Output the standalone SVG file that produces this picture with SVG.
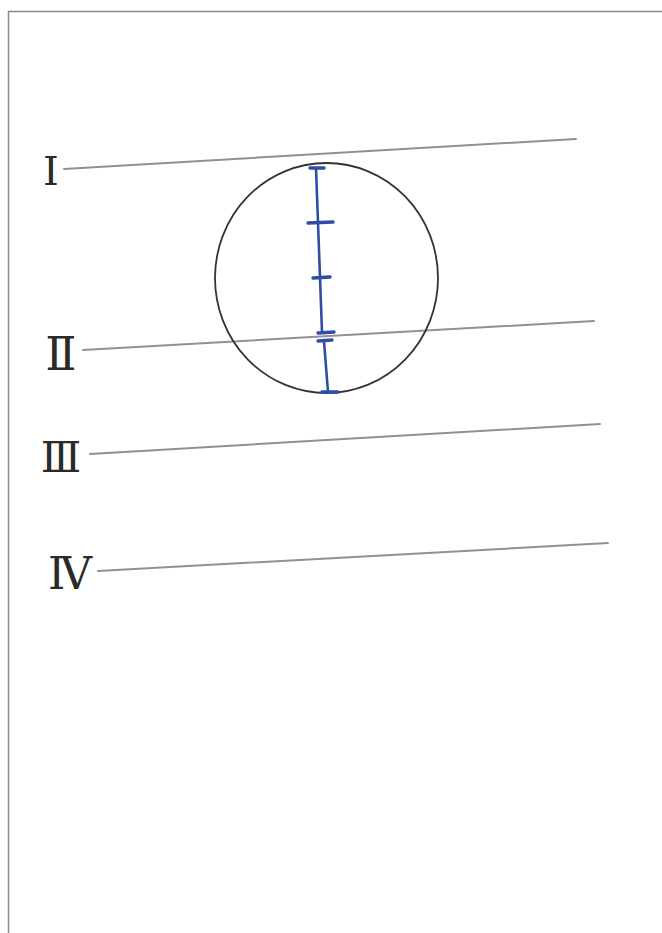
<svg xmlns="http://www.w3.org/2000/svg" width="662" height="933" viewBox="0 0 662 933">
<style>
.frame{fill:none;stroke:#8a8a8a;stroke-width:1.5}
.row{stroke:#9a8c94;stroke-width:2;stroke-linecap:round}
.lbl{font-family:"DejaVu Serif","Liberation Serif",serif;fill:#2a2a2a;text-anchor:middle}
.blue{stroke:#2f4ea3;stroke-width:2.6;stroke-linecap:round;fill:none}
.tick{stroke:#2f4ea3;stroke-width:3.4;stroke-linecap:round}
</style>
<rect width="662" height="933" fill="#fff"/>
<path class="frame" d="M662 11.5 H8.5 V933"/>
<g id="lines">
<line class="row" x1="64" y1="169" x2="576" y2="139"/>
<line class="row" x1="83" y1="350" x2="594" y2="321"/>
<line class="row" x1="90" y1="454" x2="600" y2="424"/>
<line class="row" x1="98" y1="571" x2="608" y2="543"/>
</g>
<g id="labels">
<text class="lbl" x="51" y="185" font-size="40">Ⅰ</text>
<text class="lbl" x="61" y="370" font-size="46">Ⅱ</text>
<text class="lbl" x="61" y="472" font-size="42">Ⅲ</text>
<text class="lbl" x="70" y="589" font-size="44">Ⅳ</text>
</g>
<g id="circle">
<ellipse cx="326.5" cy="278" rx="111.5" ry="115" fill="none" stroke="#333" stroke-width="1.8"/>
</g>
<g id="segment">
<path class="blue" d="M316 168 L322 332 M324 341 L328 392"/>
<line class="tick" x1="310" y1="168" x2="324" y2="168"/>
<line class="tick" x1="308" y1="223" x2="333" y2="222"/>
<line class="tick" x1="313" y1="278" x2="330" y2="277"/>
<line class="tick" x1="318" y1="333" x2="334" y2="332"/>
<line class="tick" x1="318" y1="341" x2="332" y2="340"/>
<line class="tick" x1="322" y1="392" x2="338" y2="392"/>
</g>
</svg>
